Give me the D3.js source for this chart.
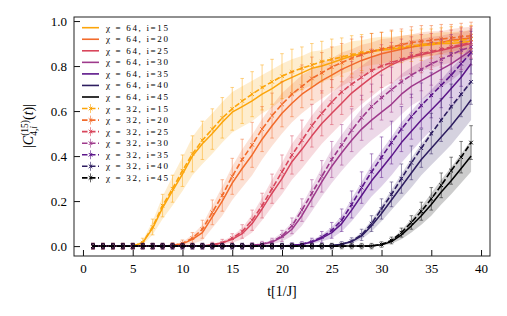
<!DOCTYPE html>
<html>
<head>
<meta charset="utf-8">
<script src="https://cdn.jsdelivr.net/npm/d3@7"></script>
<style>
  body { margin: 0; background: #fff; }
</style>
</head>
<body>
<script>
// time steps t[1/J]
var times = [1, 2, 3, 4, 5, 6, 7, 8, 9, 10, 11, 12, 13, 14, 15, 16, 17, 18, 19, 20,
  21, 22, 23, 24, 25, 26, 27, 28, 29, 30, 31, 32, 33, 34, 35, 36, 37, 38, 39];
var sites = [15, 20, 25, 30, 35, 40, 45];
var xTicks = [0, 5, 10, 15, 20, 25, 30, 35, 40];
var yTicks = [0.0, 0.2, 0.4, 0.6, 0.8, 1.0];

// chi = 64 (solid lines) and half width of the shaded band
var chi64_i15 = [0, 0, 0, 0, 0, 0.015, 0.08, 0.17, 0.245, 0.32, 0.40, 0.455, 0.50, 0.55, 0.595, 0.62, 0.645, 0.675, 0.70, 0.73,
  0.75, 0.77, 0.79, 0.80, 0.815, 0.83, 0.845, 0.855, 0.865, 0.87, 0.875, 0.88, 0.885, 0.89, 0.895, 0.90, 0.90, 0.905, 0.91];
var chi64_i20 = [0, 0, 0, 0, 0, 0, 0, 0, 0.003, 0.01, 0.03, 0.06, 0.13, 0.2, 0.28, 0.345, 0.405, 0.475, 0.535, 0.59,
  0.635, 0.675, 0.705, 0.735, 0.76, 0.785, 0.805, 0.825, 0.84, 0.855, 0.865, 0.875, 0.885, 0.895, 0.90, 0.905, 0.915, 0.92, 0.925];
var chi64_i25 = [0, 0, 0, 0, 0, 0, 0, 0, 0, 0, 0, 0, 0.005, 0.015, 0.03, 0.055, 0.10, 0.165, 0.235, 0.30,
  0.375, 0.43, 0.49, 0.545, 0.59, 0.635, 0.68, 0.715, 0.75, 0.78, 0.805, 0.825, 0.84, 0.85, 0.86, 0.87, 0.88, 0.89, 0.90];
var chi64_i30 = [0, 0, 0, 0, 0, 0, 0, 0, 0, 0, 0, 0, 0, 0, 0, 0, 0.003, 0.008, 0.018, 0.04,
  0.075, 0.135, 0.21, 0.285, 0.355, 0.415, 0.47, 0.52, 0.56, 0.595, 0.63, 0.675, 0.71, 0.735, 0.76, 0.785, 0.81, 0.84, 0.87];
var chi64_i35 = [0, 0, 0, 0, 0, 0, 0, 0, 0, 0, 0, 0, 0, 0, 0, 0, 0, 0, 0, 0,
  0.003, 0.008, 0.018, 0.035, 0.06, 0.10, 0.16, 0.225, 0.29, 0.345, 0.40, 0.46, 0.51, 0.56, 0.605, 0.65, 0.70, 0.75, 0.81];
var chi64_i40 = [0, 0, 0, 0, 0, 0, 0, 0, 0, 0, 0, 0, 0, 0, 0, 0, 0, 0, 0, 0,
  0, 0, 0, 0, 0.003, 0.008, 0.02, 0.045, 0.09, 0.145, 0.205, 0.265, 0.325, 0.385, 0.435, 0.485, 0.535, 0.59, 0.65];
var chi64_i45 = [0, 0, 0, 0, 0, 0, 0, 0, 0, 0, 0, 0, 0, 0, 0, 0, 0, 0, 0, 0,
  0, 0, 0, 0, 0, 0, 0, 0, 0.002, 0.006, 0.02, 0.05, 0.09, 0.135, 0.185, 0.24, 0.29, 0.345, 0.40];

var band64_i15 = [0, 0, 0, 0, 0, 0.01, 0.03, 0.05, 0.065, 0.075, 0.085, 0.09, 0.09, 0.09, 0.09, 0.09, 0.09, 0.085, 0.085, 0.08,
  0.08, 0.075, 0.075, 0.07, 0.07, 0.065, 0.065, 0.06, 0.06, 0.06, 0.055, 0.055, 0.055, 0.05, 0.05, 0.05, 0.05, 0.05, 0.05];
var band64_i20 = [0, 0, 0, 0, 0, 0, 0, 0, 0.003, 0.008, 0.02, 0.035, 0.05, 0.065, 0.075, 0.085, 0.09, 0.09, 0.09, 0.09,
  0.085, 0.085, 0.08, 0.08, 0.075, 0.075, 0.07, 0.07, 0.065, 0.065, 0.06, 0.06, 0.055, 0.055, 0.055, 0.05, 0.05, 0.05, 0.05];
var band64_i25 = [0, 0, 0, 0, 0, 0, 0, 0, 0, 0, 0, 0, 0.003, 0.008, 0.015, 0.025, 0.04, 0.05, 0.06, 0.07,
  0.08, 0.085, 0.09, 0.09, 0.09, 0.09, 0.09, 0.085, 0.085, 0.08, 0.08, 0.075, 0.075, 0.07, 0.07, 0.065, 0.065, 0.06, 0.06];
var band64_i30 = [0, 0, 0, 0, 0, 0, 0, 0, 0, 0, 0, 0, 0, 0, 0, 0, 0.002, 0.005, 0.01, 0.02,
  0.03, 0.045, 0.055, 0.065, 0.075, 0.08, 0.085, 0.09, 0.09, 0.09, 0.09, 0.09, 0.085, 0.085, 0.08, 0.08, 0.075, 0.07, 0.07];
var band64_i35 = [0, 0, 0, 0, 0, 0, 0, 0, 0, 0, 0, 0, 0, 0, 0, 0, 0, 0, 0, 0,
  0.002, 0.004, 0.008, 0.015, 0.025, 0.035, 0.05, 0.06, 0.07, 0.08, 0.085, 0.09, 0.09, 0.09, 0.09, 0.09, 0.09, 0.085, 0.085];
var band64_i40 = [0, 0, 0, 0, 0, 0, 0, 0, 0, 0, 0, 0, 0, 0, 0, 0, 0, 0, 0, 0,
  0, 0, 0, 0, 0.002, 0.004, 0.008, 0.015, 0.025, 0.035, 0.045, 0.055, 0.065, 0.07, 0.075, 0.08, 0.085, 0.085, 0.09];
var band64_i45 = [0, 0, 0, 0, 0, 0, 0, 0, 0, 0, 0, 0, 0, 0, 0, 0, 0, 0, 0, 0,
  0, 0, 0, 0, 0, 0, 0, 0, 0.002, 0.004, 0.01, 0.02, 0.03, 0.04, 0.05, 0.055, 0.06, 0.065, 0.07];

// chi = 32 (dashed lines with error bars)
var chi32_i15 = [0, 0, 0, 0, 0, 0.015, 0.085, 0.18, 0.255, 0.335, 0.41, 0.47, 0.52, 0.57, 0.61, 0.645, 0.675, 0.705, 0.73, 0.755,
  0.775, 0.79, 0.805, 0.82, 0.83, 0.84, 0.85, 0.86, 0.865, 0.875, 0.88, 0.885, 0.89, 0.895, 0.90, 0.905, 0.91, 0.915, 0.92];
var chi32_i20 = [0, 0, 0, 0, 0, 0, 0, 0, 0.003, 0.012, 0.035, 0.075, 0.15, 0.225, 0.31, 0.385, 0.45, 0.52, 0.58, 0.63,
  0.675, 0.71, 0.745, 0.77, 0.795, 0.815, 0.835, 0.85, 0.865, 0.875, 0.885, 0.895, 0.905, 0.91, 0.915, 0.92, 0.925, 0.93, 0.935];
var chi32_i25 = [0, 0, 0, 0, 0, 0, 0, 0, 0, 0, 0, 0, 0.005, 0.015, 0.035, 0.065, 0.115, 0.18, 0.255, 0.33,
  0.405, 0.47, 0.535, 0.59, 0.64, 0.685, 0.72, 0.75, 0.78, 0.80, 0.815, 0.83, 0.845, 0.855, 0.865, 0.875, 0.885, 0.895, 0.905];
var chi32_i30 = [0, 0, 0, 0, 0, 0, 0, 0, 0, 0, 0, 0, 0, 0, 0, 0, 0.003, 0.009, 0.02, 0.045,
  0.09, 0.16, 0.235, 0.31, 0.385, 0.45, 0.515, 0.57, 0.62, 0.66, 0.695, 0.73, 0.76, 0.785, 0.81, 0.83, 0.85, 0.87, 0.885];
var chi32_i35 = [0, 0, 0, 0, 0, 0, 0, 0, 0, 0, 0, 0, 0, 0, 0, 0, 0, 0, 0, 0,
  0.003, 0.008, 0.02, 0.04, 0.07, 0.115, 0.185, 0.26, 0.33, 0.395, 0.46, 0.52, 0.575, 0.625, 0.67, 0.715, 0.76, 0.81, 0.86];
var chi32_i40 = [0, 0, 0, 0, 0, 0, 0, 0, 0, 0, 0, 0, 0, 0, 0, 0, 0, 0, 0, 0,
  0, 0, 0, 0, 0, 0.008, 0.022, 0.05, 0.10, 0.165, 0.23, 0.30, 0.37, 0.435, 0.50, 0.56, 0.62, 0.675, 0.73];
var chi32_i45 = [0, 0, 0, 0, 0, 0, 0, 0, 0, 0, 0, 0, 0, 0, 0, 0, 0, 0, 0, 0,
  0, 0, 0, 0, 0, 0, 0, 0, 0, 0.007, 0.025, 0.06, 0.105, 0.155, 0.21, 0.27, 0.335, 0.395, 0.46];

var err32_i15 = [0.012, 0.012, 0.012, 0.012, 0.012, 0.02, 0.035, 0.05, 0.06, 0.07, 0.08, 0.085, 0.09, 0.09, 0.095, 0.1, 0.1, 0.1, 0.1, 0.1,
  0.1, 0.095, 0.095, 0.09, 0.09, 0.085, 0.085, 0.08, 0.08, 0.075, 0.075, 0.07, 0.07, 0.07, 0.065, 0.065, 0.065, 0.06, 0.06];
var err32_i20 = [0.012, 0.012, 0.012, 0.012, 0.012, 0.012, 0.012, 0.012, 0.012, 0.015, 0.025, 0.04, 0.055, 0.07, 0.08, 0.09, 0.1, 0.1, 0.1, 0.1,
  0.1, 0.095, 0.095, 0.09, 0.09, 0.085, 0.085, 0.08, 0.08, 0.075, 0.075, 0.07, 0.07, 0.07, 0.065, 0.065, 0.06, 0.06, 0.06];
var err32_i25 = [0.012, 0.012, 0.012, 0.012, 0.012, 0.012, 0.012, 0.012, 0.012, 0.012, 0.012, 0.012, 0.012, 0.015, 0.02, 0.03, 0.045, 0.055, 0.065, 0.075,
  0.085, 0.09, 0.095, 0.1, 0.1, 0.1, 0.1, 0.1, 0.095, 0.095, 0.09, 0.09, 0.085, 0.085, 0.08, 0.08, 0.075, 0.075, 0.07];
var err32_i30 = [0.012, 0.012, 0.012, 0.012, 0.012, 0.012, 0.012, 0.012, 0.012, 0.012, 0.012, 0.012, 0.012, 0.012, 0.012, 0.012, 0.012, 0.012, 0.015, 0.025,
  0.035, 0.05, 0.06, 0.07, 0.08, 0.09, 0.095, 0.1, 0.1, 0.1, 0.1, 0.1, 0.1, 0.095, 0.095, 0.09, 0.09, 0.085, 0.08];
var err32_i35 = [0.012, 0.012, 0.012, 0.012, 0.012, 0.012, 0.012, 0.012, 0.012, 0.012, 0.012, 0.012, 0.012, 0.012, 0.012, 0.012, 0.012, 0.012, 0.012, 0.012,
  0.012, 0.012, 0.015, 0.025, 0.035, 0.05, 0.06, 0.07, 0.08, 0.09, 0.095, 0.1, 0.1, 0.1, 0.1, 0.1, 0.1, 0.1, 0.095];
var err32_i40 = [0.012, 0.012, 0.012, 0.012, 0.012, 0.012, 0.012, 0.012, 0.012, 0.012, 0.012, 0.012, 0.012, 0.012, 0.012, 0.012, 0.012, 0.012, 0.012, 0.012,
  0.012, 0.012, 0.012, 0.012, 0.012, 0.012, 0.015, 0.025, 0.035, 0.045, 0.055, 0.065, 0.075, 0.085, 0.09, 0.095, 0.1, 0.1, 0.1];
var err32_i45 = [0.012, 0.012, 0.012, 0.012, 0.012, 0.012, 0.012, 0.012, 0.012, 0.012, 0.012, 0.012, 0.012, 0.012, 0.012, 0.012, 0.012, 0.012, 0.012, 0.012,
  0.012, 0.012, 0.012, 0.012, 0.012, 0.012, 0.012, 0.012, 0.012, 0.012, 0.015, 0.02, 0.03, 0.04, 0.05, 0.055, 0.06, 0.07, 0.075];

var chi64 = [chi64_i15, chi64_i20, chi64_i25, chi64_i30, chi64_i35, chi64_i40, chi64_i45];
var band64 = [band64_i15, band64_i20, band64_i25, band64_i30, band64_i35, band64_i40, band64_i45];
var chi32 = [chi32_i15, chi32_i20, chi32_i25, chi32_i30, chi32_i35, chi32_i40, chi32_i45];
var err32 = [err32_i15, err32_i20, err32_i25, err32_i30, err32_i35, err32_i40, err32_i45];

var cols = [
  "#fca50a", // i=15
  "#f26b2b", // i=20
  "#d8465c", // i=25
  "#9e3a8c", // i=30
  "#5c168a", // i=35
  "#2d1d60", // i=40
  "#000000"  // i=45
];

var serif = '"Liberation Serif", "Times New Roman", serif';

var svg = d3.select('body').append('svg')
  .attr('width', 507)
  .attr('height', 316);

var margin = { top: 17, right: 17, bottom: 60, left: 74 },
  width = 507 - margin.left - margin.right,
  height = 316 - margin.top - margin.bottom;

var plot = svg.append('g')
  .attr('transform', 'translate(' + margin.left + ',' + margin.top + ')');

var x = d3.scaleLinear().domain([-0.9, 40.9]).range([0, width]);
var y = d3.scaleLinear().domain([-0.044, 1.018]).range([height, 0]);

function pts(vals, spread) {
  return times.map(function (t, j) { return { t: t, v: vals[j], s: spread[j] }; });
}

var line = d3.line()
  .x(function (d) { return x(d.t); })
  .y(function (d) { return y(d.v); });

var area = d3.area()
  .x(function (d) { return x(d.t); })
  .y0(function (d) { return y(d.v - d.s); })
  .y1(function (d) { return y(d.v + d.s); });

// bands for chi = 64
chi64.forEach(function (vals, k) {
  plot.append('path')
    .attr('d', area(pts(vals, band64[k])))
    .attr('fill', cols[k])
    .attr('fill-opacity', 0.2)
    .attr('stroke', 'none');
});

// solid lines chi = 64
chi64.forEach(function (vals, k) {
  plot.append('path')
    .attr('d', line(pts(vals, band64[k])))
    .attr('fill', 'none')
    .attr('stroke', cols[k])
    .attr('stroke-width', 1.5)
    .attr('stroke-linejoin', 'round');
});

// dashed lines with error bars, chi = 32
chi32.forEach(function (vals, k) {
  var data = pts(vals, err32[k]);
  var g = plot.append('g');
  var bars = g.selectAll('g.bar')
    .data(data)
    .enter().append('g')
    .attr('class', 'bar')
    .attr('stroke', cols[k])
    .attr('stroke-opacity', 0.65)
    .attr('stroke-width', 0.75);
  bars.append('line')
    .attr('x1', function (d) { return x(d.t); })
    .attr('x2', function (d) { return x(d.t); })
    .attr('y1', function (d) { return y(d.v - d.s); })
    .attr('y2', function (d) { return y(d.v + d.s); });
  [-1, 1].forEach(function (sgn) {
    bars.append('line')
      .attr('x1', function (d) { return x(d.t) - 1.8; })
      .attr('x2', function (d) { return x(d.t) + 1.8; })
      .attr('y1', function (d) { return y(d.v + sgn * d.s); })
      .attr('y2', function (d) { return y(d.v + sgn * d.s); });
  });

  g.append('path')
    .attr('d', line(data))
    .attr('fill', 'none')
    .attr('stroke', cols[k])
    .attr('stroke-width', 1.6)
    .attr('stroke-dasharray', '5.5,2.5');

  g.selectAll('path.mk')
    .data(data)
    .enter().append('path')
    .attr('class', 'mk')
    .attr('d', function (d) {
      var cx = x(d.t), cy = y(d.v), r = 1.8;
      return 'M' + (cx - r) + ',' + (cy - r) + 'L' + (cx + r) + ',' + (cy + r) +
        'M' + (cx - r) + ',' + (cy + r) + 'L' + (cx + r) + ',' + (cy - r);
    })
    .attr('stroke', cols[k])
    .attr('stroke-width', 1);
});

// axes, ticks pointing inwards
var xAxis = plot.append('g')
  .attr('transform', 'translate(0,' + height + ')')
  .call(d3.axisBottom(x).tickValues(xTicks).tickSize(-6).tickPadding(8));
var yAxis = plot.append('g')
  .call(d3.axisLeft(y).tickValues(yTicks).tickFormat(d3.format('.1f')).tickSize(-6).tickPadding(7));
[xAxis, yAxis].forEach(function (a) {
  a.select('.domain').remove();
  a.selectAll('.tick text')
    .style('font-family', serif)
    .style('font-size', '13px')
    .attr('fill', '#000');
  a.selectAll('.tick line').attr('stroke', '#111').attr('stroke-width', 1);
});

plot.append('rect')
  .attr('width', width)
  .attr('height', height)
  .attr('fill', 'none')
  .attr('stroke', '#222')
  .attr('stroke-width', 1);

// axis labels
svg.append('text')
  .attr('x', margin.left + width / 2)
  .attr('y', 296)
  .attr('text-anchor', 'middle')
  .style('font-family', serif)
  .style('font-size', '14px')
  .text('t[1/J]');

function measure(str, size, italic) {
  var tmp = svg.append('text')
    .style('font-family', serif)
    .style('font-size', size + 'px')
    .style('font-style', italic ? 'italic' : 'normal').text(str);
  var w = tmp.node().getComputedTextLength();
  tmp.remove();
  return w;
}
var small = 9.5;
var wSup = measure('(15)', small);
var wSub = measure('4,', small) + measure('i', small, true);

var ylab = svg.append('text')
  .attr('transform', 'translate(33,126) rotate(-90)')
  .attr('text-anchor', 'middle')
  .style('font-family', serif)
  .style('font-size', '14px');
ylab.append('tspan').text('|');
ylab.append('tspan').style('font-style', 'italic').text('C');
ylab.append('tspan').style('font-size', small + 'px').attr('dy', -5.5).text('(15)');
ylab.append('tspan').style('font-size', small + 'px').attr('dx', -wSup).attr('dy', 9).text('4,');
ylab.append('tspan').style('font-size', small + 'px').style('font-style', 'italic').text('i');
ylab.append('tspan').attr('dx', wSup - wSub).attr('dy', -3.5).text('(');
ylab.append('tspan').style('font-style', 'italic').text('t');
ylab.append('tspan').text(')|');

// legend
var entries = [];
sites.forEach(function (s, k) { entries.push({ chi: 64, i: s, k: k }); });
sites.forEach(function (s, k) { entries.push({ chi: 32, i: s, k: k }); });

var legend = svg.append('g')
  .selectAll('g')
  .data(entries)
  .enter().append('g')
  .attr('transform', function (d, n) { return 'translate(82,' + (27.7 + n * 11.55) + ')'; });

legend.append('line')
  .attr('x1', 0).attr('x2', 17)
  .attr('stroke', function (d) { return cols[d.k]; })
  .attr('stroke-width', 1.6)
  .attr('stroke-dasharray', function (d) { return d.chi == 32 ? '5.5,2.5' : null; });

legend.filter(function (d) { return d.chi == 32; })
  .append('line')
  .attr('x1', 8.5).attr('x2', 8.5)
  .attr('y1', -4.5).attr('y2', 4.5)
  .attr('stroke', function (d) { return cols[d.k]; })
  .attr('stroke-opacity', 0.75)
  .attr('stroke-width', 0.8);

legend.filter(function (d) { return d.chi == 32; })
  .append('path')
  .attr('d', 'M6.7,-1.8L10.3,1.8M6.7,1.8L10.3,-1.8')
  .attr('stroke', function (d) { return cols[d.k]; })
  .attr('stroke-width', 1);

legend.append('text')
  .attr('x', 24)
  .attr('dy', '0.33em')
  .style('font-family', serif)
  .style('font-size', '9px')
  .attr('textLength', 62)
  .attr('lengthAdjust', 'spacing')
  .text(function (d) { return 'χ = ' + d.chi + ', i=' + d.i; });
</script>
</body>
</html>
